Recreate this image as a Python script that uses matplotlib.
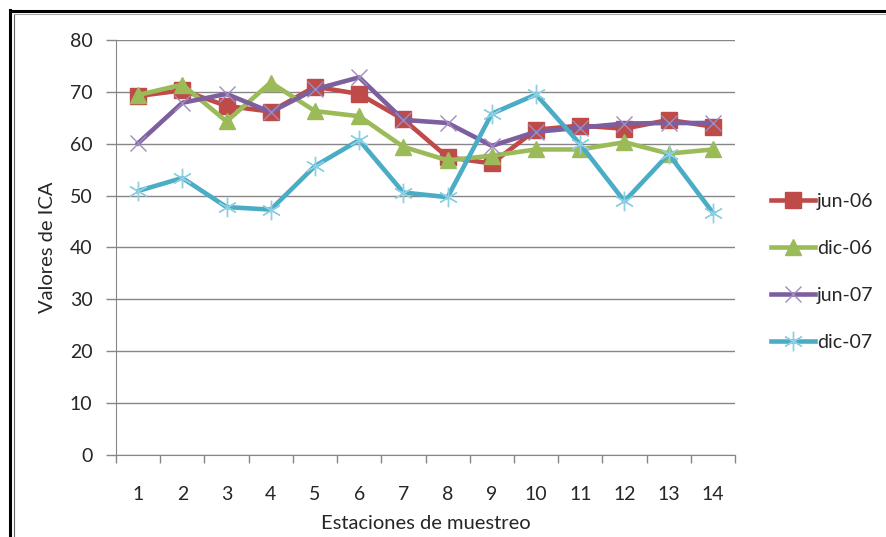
import matplotlib.pyplot as plt
from matplotlib.lines import Line2D

plt.rcParams['font.family'] = ['Lato', 'DejaVu Sans']

# Data
stations = list(range(1, 15))
jun_06 = [69.2, 70.3, 67.3, 66.2, 71.0, 69.6, 64.7, 57.4, 56.2, 62.7, 63.5, 62.9, 64.6, 63.3]
dic_06 = [69.4, 71.4, 64.3, 71.8, 66.3, 65.3, 59.4, 56.8, 57.7, 58.9, 58.9, 60.3, 58.1, 58.9]
jun_07 = [60.1, 67.9, 69.6, 66.1, 70.5, 72.8, 64.6, 64.0, 59.6, 62.3, 63.1, 63.9, 64.0, 64.0]
dic_07 = [50.9, 53.4, 47.8, 47.3, 55.7, 60.7, 50.6, 49.7, 65.8, 69.5, 59.9, 48.9, 58.0, 46.7]
labels = ["jun-06", "dic-06", "jun-07", "dic-07"]

colors = ["#BE4B48", "#9BBB59", "#7D5FA0", "#4BACC6"]

fig = plt.figure(figsize=(8.86, 5.37), dpi=100)
ax = fig.add_axes([116 / 886, 82 / 537, 619 / 886, 415 / 537])

series = [jun_06, dic_06, jun_07, dic_07]
handles = []
for vals, lab, col, i in zip(series, labels, colors, range(4)):
    if i == 0:
        kw = dict(marker='s', markersize=11, markerfacecolor=col, markeredgecolor=col)
    elif i == 1:
        kw = dict(marker='^', markersize=12, markerfacecolor=col, markeredgecolor=col)
    elif i == 2:
        kw = dict(marker='x', markersize=12, markeredgewidth=1.0, markeredgecolor="#A08CC0")
    else:
        kw = dict(marker=(6, 2, 0), markersize=14, markeredgewidth=1.0, markeredgecolor="#8ED0E2")
    ln, = ax.plot(stations, vals, color=col, linewidth=3.3, label=lab, zorder=3 + i * 0.1, **kw)
    handles.append(ln)

ax.set_xlim(0.5, 14.5)
ax.set_ylim(0, 80)
ax.set_yticks(range(0, 81, 10))
ax.set_xticks(stations)
ax.set_xticks([x + 0.5 for x in range(0, 15)], minor=True)
ax.tick_params(axis='x', which='major', length=0, pad=22, labelsize=14, colors='#262626')
ax.tick_params(axis='x', which='minor', length=6, direction='out', color='#868686', width=1)
ax.tick_params(axis='y', length=7, direction='out', color='#868686', width=1, labelsize=14, pad=10)
for t in ax.get_yticklabels():
    t.set_color('#262626')

ax.grid(axis='y', color='#868686', linewidth=1)
ax.set_axisbelow(True)
for s in ['top', 'right']:
    ax.spines[s].set_visible(False)
ax.spines['left'].set_color('#868686')
ax.spines['bottom'].set_color('#868686')

ax.set_xlabel("Estaciones de muestreo", fontsize=14.5, color='#262626', labelpad=9)
ax.set_ylabel("Valores de ICA", fontsize=14.5, color='#262626', labelpad=10)

leg = fig.legend(handles=handles, labels=labels, loc='center left',
                 bbox_to_anchor=(753 / 886, 265 / 537), frameon=False, fontsize=14,
                 labelspacing=1.55, handlelength=2.3, handletextpad=0.1,
                 labelcolor='#262626')

# outer frame (top and left double lines)
fig.add_artist(Line2D([10 / 886, 10 / 886], [0, 1 - 10 / 537], color='black', linewidth=2.2,
                      transform=fig.transFigure))
fig.add_artist(Line2D([10 / 886, 1], [1 - 11 / 537, 1 - 11 / 537], color='black', linewidth=2.2,
                      transform=fig.transFigure))
fig.add_artist(Line2D([13.5 / 886, 13.5 / 886], [0, 1 - 14 / 537], color='#666666', linewidth=0.8,
                      transform=fig.transFigure))
fig.add_artist(Line2D([13.5 / 886, 1], [1 - 14 / 537, 1 - 14 / 537], color='#aaaaaa', linewidth=0.8,
                      transform=fig.transFigure))

fig.savefig("out.png", dpi=100)
